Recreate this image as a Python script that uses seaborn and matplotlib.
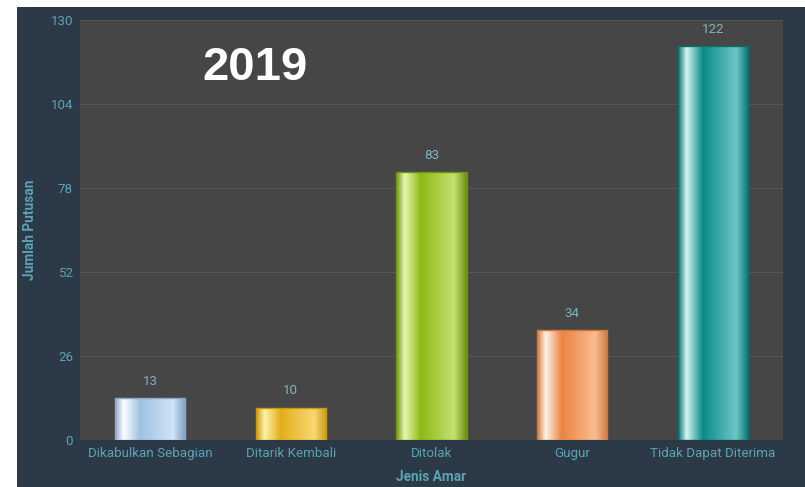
import numpy as np
import pandas as pd
import matplotlib
matplotlib.use("Agg")
import matplotlib.pyplot as plt
from matplotlib.patches import Rectangle
from matplotlib.colors import LinearSegmentedColormap
import seaborn as sns

categories = ["Dikabulkan Sebagian", "Ditarik Kembali", "Ditolak", "Gugur", "Tidak Dapat Diterima"]
values = [13, 10, 83, 34, 122]
yticks = [0, 26, 52, 78, 104, 130]
title_text = "2019"
xlabel = "Jenis Amar"
ylabel = "Jumlah Putusan"

# gradient stops per bar: (edge, highlight, base, light, edge)
grads = [
    ["#8aa8c8", "#ffffff", "#9fc2e2", "#cfe4f6", "#7d9cbc"],
    ["#c99a10", "#fff2a8", "#e3ae1c", "#f8d871", "#c89a18"],
    ["#6d9510", "#eaf7b0", "#8cba16", "#c4e070", "#6a9010"],
    ["#d07838", "#fff3e6", "#ea8442", "#f9bc92", "#d07a40"],
    ["#0a6f6e", "#d6f6f4", "#0a8a88", "#6cc6c6", "#0a7070"],
]
stops = [0.0, 0.12, 0.35, 0.82, 1.0]

FIG_BG = "#2c3a47"
AX_BG = "#464646"
TEAL = "#5aa3b5"

sns.set_theme(style="dark")
plt.rcParams["font.family"] = ["Roboto", "DejaVu Sans"]

fig = plt.figure(figsize=(8.05, 4.87), dpi=100)
fig.patch.set_facecolor("white")
fig.patches.append(Rectangle((17 / 805, 0), 1 - 17 / 805, 1 - 7 / 487,
                             transform=fig.transFigure, facecolor=FIG_BG,
                             edgecolor="none", zorder=-10))
ax = fig.add_axes([80 / 805, 47 / 487, 703 / 805, 420 / 487])
ax.set_facecolor(AX_BG)

df = pd.DataFrame({"cat": categories, "val": values})
sns.barplot(data=df, x="cat", y="val", ax=ax, width=0.5, color="#888888",
            saturation=1, edgecolor="none", zorder=2)

ax.set_ylim(0, 130)
ax.set_yticks(yticks)
ax.set_yticklabels([str(t) for t in yticks])
for s in ax.spines.values():
    s.set_visible(False)
ax.grid(axis="y", color="#555555", linewidth=0.8, zorder=0)
ax.grid(axis="x", visible=False)
ax.tick_params(axis="both", colors=TEAL, labelsize=9.6, length=0, pad=5)
for lab in ax.get_xticklabels() + ax.get_yticklabels():
    lab.set_color(TEAL)

ax.set_xlabel(xlabel, color=TEAL, fontsize=9.8, fontweight="bold", labelpad=7)
ax.set_ylabel(ylabel, color=TEAL, fontsize=9.8, fontweight="bold", labelpad=10)

# gradient fill for each bar
for p, g, v in zip(ax.patches, grads, values):
    x0, w, h = p.get_x(), p.get_width(), p.get_height()
    cmap = LinearSegmentedColormap.from_list("g", list(zip(stops, g)))
    grad = np.linspace(0, 1, 256).reshape(1, -1)
    im = ax.imshow(grad, cmap=cmap, aspect="auto", extent=(x0, x0 + w, 0, h),
                   zorder=3, interpolation="bilinear")
    im.set_clip_path(p)
    p.set_facecolor("none")
    p.set_edgecolor(g[0])
    p.set_linewidth(1.0)
    p.set_zorder(3.5)
    ax.text(x0 + w / 2, h + 3.2, str(v), ha="center", va="bottom",
            color="#7fb2bf", fontsize=9.6, zorder=4)

ax.set_xlim(-0.5, len(categories) - 0.5)
ax.set_ylim(0, 130)

ax.text(0.249, 0.886, title_text, transform=ax.transAxes, ha="center", va="center",
        color="white", fontsize=34, fontweight="bold", family="Liberation Sans")

fig.savefig("out.png", dpi=100, facecolor=fig.get_facecolor())
